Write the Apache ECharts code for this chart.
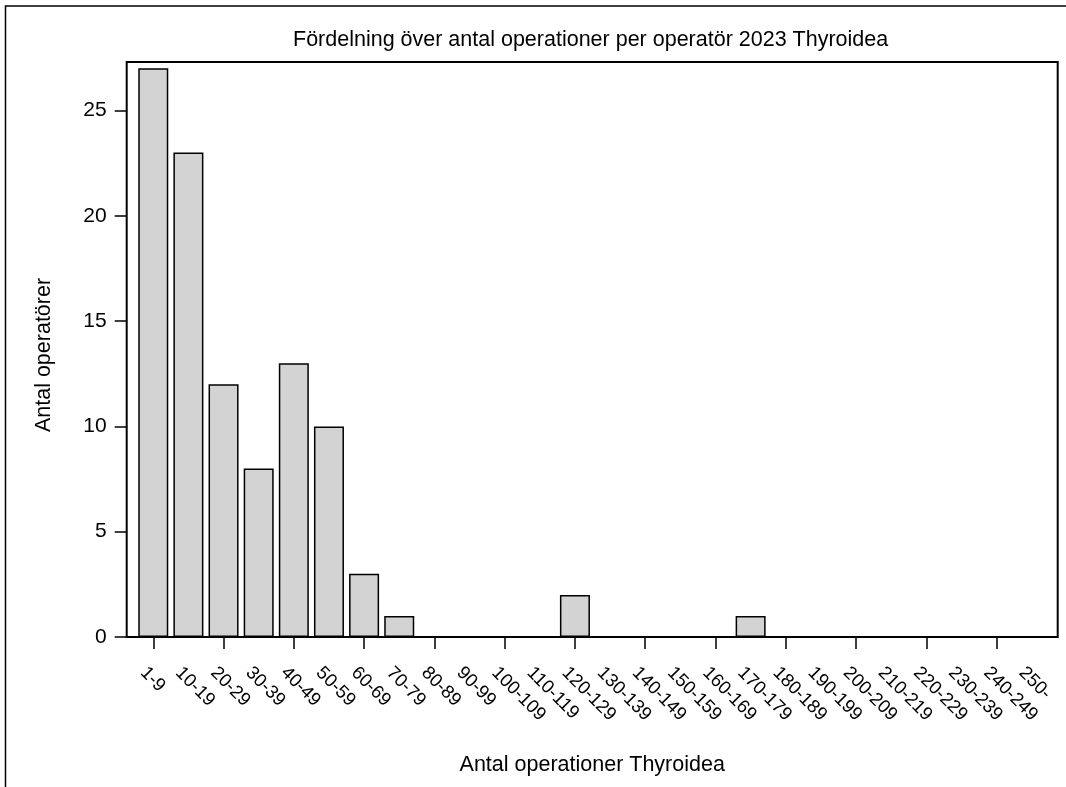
<!DOCTYPE html>
<html>
<head>
<meta charset="utf-8">
<script src="https://cdn.jsdelivr.net/npm/echarts@6/dist/echarts.min.js"></script>
<style>
html, body { margin: 0; padding: 0; background: #fff; }
#chart { width: 1066px; height: 787px; }
</style>
</head>
<body>
<div id="chart"></div>
<script>
const titleText = 'Fördelning över antal operationer per operatör 2023 Thyroidea';
const xAxisTitle = 'Antal operationer Thyroidea';
const yAxisTitle = 'Antal operatörer';
const categories = ['1-9','10-19','20-29','30-39','40-49','50-59','60-69','70-79','80-89','90-99',
  '100-109','110-119','120-129','130-139','140-149','150-159','160-169','170-179','180-189','190-199',
  '200-209','210-219','220-229','230-239','240-249','250-'];
const counts = [27,23,12,8,13,10,3,1,0,0,0,0,2,0,0,0,0,1,0,0,0,0,0,0,0,0];
const yTicks = [0,5,10,15,20,25];
const yMax = 27.3;

const FONT = "'Liberation Sans', Arial, Helvetica, sans-serif";
const chart = echarts.init(document.getElementById('chart'), null, { renderer: 'canvas' });

const option = {
  backgroundColor: '#fff',
  animation: false,
  title: {
    text: titleText,
    left: 293,
    top: 29,
    padding: 0,
    textStyle: { fontFamily: FONT, fontSize: 21.5, fontWeight: 'normal', color: '#000' }
  },
  graphic: [{
    type: 'rect',
    shape: { x: 5.5, y: 6, width: 1200, height: 1000 },
    style: { fill: 'none', stroke: '#000', lineWidth: 1.5 },
    silent: true, z: 100
  }],
  grid: [
    { left: 126.7, right: 8.3, top: 62, bottom: 150, show: true, borderColor: '#000', borderWidth: 2, backgroundColor: 'transparent', z: 5 },
    { left: 135.7, right: 16.7, top: 62, bottom: 150 },
    { left: 125.7, right: 26.7, top: 62, bottom: 150 }
  ],
  xAxis: [
    {
      gridIndex: 0, type: 'value', min: 0, max: 1,
      axisLine: { show: false }, axisTick: { show: false }, axisLabel: { show: false }, splitLine: { show: false },
      name: xAxisTitle, nameLocation: 'middle', nameGap: 117,
      nameTextStyle: { fontFamily: FONT, fontSize: 21.5, color: '#000' }
    },
    {
      gridIndex: 1, type: 'category', data: categories, boundaryGap: true,
      axisLine: { show: false },
      axisTick: { show: true, alignWithLabel: true, length: 12, lineStyle: { color: '#000', width: 1.5 } },
      axisLabel: { show: false }, splitLine: { show: false }
    },
    {
      gridIndex: 2, type: 'category', data: categories, boundaryGap: true,
      axisLine: { show: false }, axisTick: { show: false }, splitLine: { show: false },
      axisLabel: { interval: 0, rotate: -45, margin: 33, fontFamily: FONT, fontSize: 18.5, color: '#000' }
    }
  ],
  yAxis: [
    {
      gridIndex: 0, type: 'value', min: 0, max: yMax, interval: 5,
      axisLine: { show: false },
      axisTick: { show: true, length: 12, customValues: yTicks, lineStyle: { color: '#000', width: 1.5 } },
      axisLabel: { customValues: yTicks, margin: 20, fontFamily: FONT, fontSize: 21, color: '#000' },
      splitLine: { show: false },
      name: yAxisTitle, nameLocation: 'middle', nameGap: 72, nameRotate: 90,
      nameTextStyle: { fontFamily: FONT, fontSize: 21.5, color: '#000', padding: [0, 11, 0, 0] }
    },
    { gridIndex: 1, type: 'value', min: 0, max: yMax, show: false },
    { gridIndex: 2, type: 'value', min: 0, max: yMax, show: false }
  ],
  series: [{
    type: 'bar',
    xAxisIndex: 1, yAxisIndex: 1,
    data: counts,
    barWidth: '85.4%',
    itemStyle: { color: '#d3d3d3', borderColor: '#000', borderWidth: 1.5 },
    z: 2
  }]
};
chart.setOption(option);
</script>
</body>
</html>
